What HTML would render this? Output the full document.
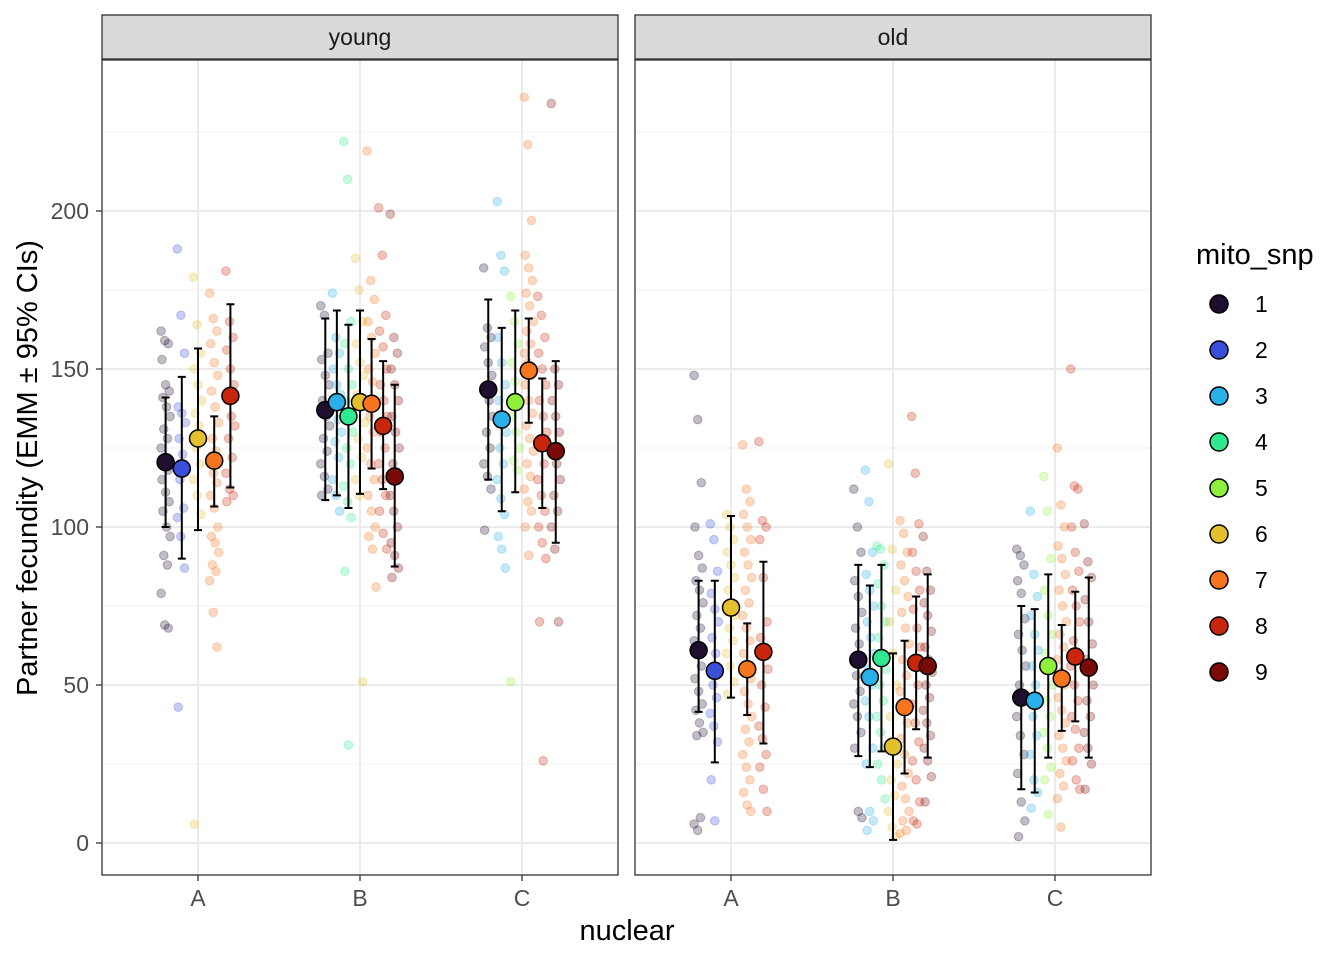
<!DOCTYPE html>
<html><head><meta charset="utf-8">
<style>
html,body{margin:0;padding:0;background:#fff;}
svg{display:block;font-family:"Liberation Sans",Arial,sans-serif;}
</style></head>
<body>
<svg id="chart" width="1344" height="960" viewBox="0 0 1344 960" xmlns="http://www.w3.org/2000/svg"></svg>
<script>
const panels = ["young","old"];
const nuclear = ["A","B","C"];
const levels = ["1","2","3","4","5","6","7","8","9"];
const colors = ["#1f0f2e","#3a4fd8","#29b0e8","#30e890","#8ef03a","#e3c02c","#f87520","#c8260c","#7a0a05"];
const yTicks = [0,50,100,150,200];
const groupLevels = {
 young:{A:[1,2,6,7,8],B:[1,3,4,6,7,8,9],C:[1,3,5,7,8,9]},
 old:{A:[1,2,6,7,8],B:[1,3,4,6,7,8,9],C:[1,3,5,7,8,9]}
};
const emmMean = {
 young:{A:[120.5,118.5,128,121,141.5],B:[137,139.5,135,139.5,139,132,116],C:[143.5,134,139.5,149.5,126.5,124]},
 old:{A:[61,54.5,74.5,55,60.5],B:[58,52.5,58.5,30.5,43,57,56],C:[46,45,56,52,59,55.5]}
};
const emmLow = {
 young:{A:[100,90,99,106.5,112.5],B:[108.5,110,106,110.5,118.5,112,87.5],C:[115,105,111,133,106,95]},
 old:{A:[41.5,25.5,46,40.5,31.5],B:[27.5,24,29,1,22,36,27],C:[17,16,27,35.5,38.5,27]}
};
const emmHigh = {
 young:{A:[141,147.5,156.5,135,170.5],B:[166,168.5,164,168.5,159.5,152.5,145],C:[172,163,168.5,166,147,152.5]},
 old:{A:[83,83,103.5,69.5,89],B:[88,81.5,88,60,64,78,85],C:[75,74,85,69,79.5,84]}
};
const raw = {
 young:{
  A:[[162,159,158,153,145,143,141,138,135,131,128,125,122,118,115,111,108,105,100,97,91,88,79,69,68],
     [188,167,155,138,136,133,128,123,118,115,106,103,97,87,43],
     [179,164,155,150,145,140,136,132,128,125,120,115,110,104,6],
     [174,166,162,158,152,148,143,138,133,128,124,120,117,114,110,106,100,97,95,92,88,86,83,73,62],
     [181,165,160,156,150,145,140,135,132,128,122,117,112,110,108]],
  B:[[170,167,155,153,148,145,140,135,132,128,124,120,116,112,110],
     [174,160,155,150,145,142,138,134,130,127,122,115,110,105],
     [222,210,165,158,150,145,140,135,130,125,120,113,108,103,86,31],
     [185,175,165,158,152,148,142,138,133,128,122,115,110,51],
     [219,178,172,165,160,155,150,146,140,135,130,125,120,115,110,105,100,97,93,81],
     [201,186,167,162,157,150,145,140,135,130,125,120,115,110,105,98,93],
     [199,160,155,150,145,140,135,130,125,120,115,110,105,100,95,91,87,84]],
  C:[[182,163,160,157,152,148,143,140,135,130,125,120,116,112,99],
     [203,186,181,160,152,145,140,135,130,125,120,115,109,104,97,93,87],
     [173,165,158,152,146,140,135,130,125,121,118,51],
     [236,221,197,186,182,178,174,170,165,162,158,155,152,148,145,140,136,132,128,124,120,116,112,108,105,100,91],
     [173,167,160,155,150,145,140,135,130,125,120,115,110,105,100,95,90,70,26],
     [234,150,145,140,135,130,125,120,115,110,105,100,93,70]]
 },
 old:{
  A:[[148,134,114,100,91,87,83,80,76,72,68,64,60,56,52,48,44,42,38,35,34,8,6,4],
     [101,96,86,79,74,70,65,60,55,50,46,41,37,32,20,7],
     [104,100,96,92,88,84,80,76,72,68,64,60,56,51,47],
     [126,112,108,104,100,96,92,88,84,80,76,72,68,64,60,56,52,48,44,40,36,32,28,24,20,16,12,10],
     [127,102,100,96,84,70,65,60,55,50,43,37,33,28,24,17,10]],
  B:[[112,100,92,83,78,73,68,63,58,53,48,44,40,35,30,10,8],
     [118,108,92,85,80,75,70,65,60,55,50,45,40,30,25,10,7,4],
     [94,93,88,82,75,70,65,60,55,50,45,40,35,30,25,20,14],
     [120,93,80,70,60,50,40,30,25,20,15,10,5,2],
     [102,98,92,88,83,78,73,68,63,58,53,48,43,38,33,28,22,18,14,10,7,4,3],
     [135,117,101,92,86,80,74,68,62,56,50,44,38,32,26,20,13,7,6],
     [97,86,80,76,72,67,62,58,54,50,46,42,38,34,30,26,21,13]],
  C:[[93,91,88,83,79,71,66,61,56,50,45,40,34,28,22,13,7,2],
     [105,85,78,72,66,61,56,50,45,40,34,28,20,16,11],
     [116,105,90,80,72,66,60,55,50,45,40,35,30,24,20,9],
     [125,107,100,94,90,85,80,75,70,66,62,58,54,50,46,42,38,34,30,26,22,18,14,5],
     [150,113,112,100,92,86,80,75,70,64,60,56,50,45,40,36,30,26,20,17],
     [101,89,84,77,70,63,58,54,50,45,40,35,30,25,17]]
 }
};

const NS="http://www.w3.org/2000/svg";
const svg=document.getElementById('chart');
function el(tag,attrs,parent){const e=document.createElementNS(NS,tag);for(const k in attrs)e.setAttribute(k,attrs[k]);(parent||svg).appendChild(e);return e;}
const panelX=[102,635], panelW=516, pTop=60, pBottom=875;
function y(v){return 843-3.16*v;}
function xCat(p,i){return panelX[p]+96+162*i;}
const dodgeW=81;

panels.forEach((pn,p)=>{
  const g=el('g',{});
  
  
  const x0=panelX[p];
  const bg=el('rect',{x:x0,y:pTop,width:panelW,height:pBottom-pTop,fill:'#fff'},g);
  
  
  for(let v=25;v<=225;v+=50){
    const l=el('line',{x1:x0,x2:x0+panelW,y1:y(v),y2:y(v),stroke:'#f2f2f2','stroke-width':1},g);
    
    
  }
  yTicks.forEach(v=>{
    const l=el('line',{x1:x0,x2:x0+panelW,y1:y(v),y2:y(v),stroke:'#ebebeb','stroke-width':2},g);
    
    
  });
  nuclear.forEach((n,i)=>{
    const l=el('line',{x1:xCat(p,i),x2:xCat(p,i),y1:pTop,y2:pBottom,stroke:'#ebebeb','stroke-width':2},g);
    
    
  });
  nuclear.forEach((n,i)=>{
    const lv=groupLevels[pn][n], k=lv.length;
    lv.forEach((L,j)=>{
      const cx=xCat(p,i)+(j-(k-1)/2)*dodgeW/k;
      raw[pn][n][j].forEach((v,q)=>{
        const jit=(((q*37)%11)-5)*0.9;
        const c=el('circle',{cx:cx+jit,cy:y(v),r:4.3,fill:colors[L-1],'fill-opacity':0.28,stroke:colors[L-1],'stroke-opacity':0.28,'stroke-width':1},g);
        
        
      });
    });
  });
  nuclear.forEach((n,i)=>{
    const lv=groupLevels[pn][n], k=lv.length;
    lv.forEach((L,j)=>{
      const cx=xCat(p,i)+(j-(k-1)/2)*dodgeW/k;
      const lo=y(emmLow[pn][n][j]), hi=y(emmHigh[pn][n][j]);
      const e=el('path',{d:`M${cx},${lo}V${hi}M${cx-4},${lo}H${cx+4}M${cx-4},${hi}H${cx+4}`,stroke:'#000','stroke-width':2,fill:'none'},g);
      
      
    });
    lv.forEach((L,j)=>{
      const cx=xCat(p,i)+(j-(k-1)/2)*dodgeW/k;
      const c=el('circle',{cx:cx,cy:y(emmMean[pn][n][j]),r:8.5,fill:colors[L-1],stroke:'#000','stroke-width':1.5},g);
      
      
    });
  });
  const br=el('rect',{x:x0,y:pTop,width:panelW,height:pBottom-pTop,fill:'none',stroke:'#333','stroke-width':1.3},g);
  
  
  const st=el('rect',{x:x0,y:15,width:panelW,height:44,fill:'#d9d9d9',stroke:'#333','stroke-width':1.3},g);
  
  
  const tt=el('text',{x:x0+panelW/2,y:45,'text-anchor':'middle','font-size':23,fill:'#1a1a1a'},g);
  tt.textContent=pn;
  
  
  nuclear.forEach((n,i)=>{
    const tk=el('line',{x1:xCat(p,i),x2:xCat(p,i),y1:pBottom,y2:pBottom+6,stroke:'#333','stroke-width':1.3},g);
    
    
    const t=el('text',{x:xCat(p,i),y:906,'text-anchor':'middle','font-size':23,fill:'#4d4d4d'},g);
    t.textContent=n;
    
    
  });
});
yTicks.forEach(v=>{
  const tk=el('line',{x1:96,x2:102,y1:y(v),y2:y(v),stroke:'#333','stroke-width':1.3});
  
  
  const t=el('text',{x:89,y:y(v)+8,'text-anchor':'end','font-size':23,fill:'#4d4d4d'});
  t.textContent=v;
  
  
});
const yt=el('text',{x:0,y:0,transform:'translate(37,468) rotate(-90)','text-anchor':'middle','font-size':29,fill:'#000'});
yt.textContent='Partner fecundity (EMM ± 95% CIs)';


const xt=el('text',{x:627,y:940,'text-anchor':'middle','font-size':29,fill:'#000'});
xt.textContent='nuclear';


const lg=el('g',{});


const lt=el('text',{x:1196,y:264,'font-size':29,fill:'#000'},lg);
lt.textContent='mito_snp';


levels.forEach((L,i)=>{
  const cy=304+46*i;
  const c=el('circle',{cx:1219,cy:cy,r:9,fill:colors[i],stroke:'#000','stroke-width':1.5},lg);
  
  
  const t=el('text',{x:1255,y:cy+8,'font-size':23,fill:'#000'},lg);
  t.textContent=L;
  
  
});
</script>
</body></html>
